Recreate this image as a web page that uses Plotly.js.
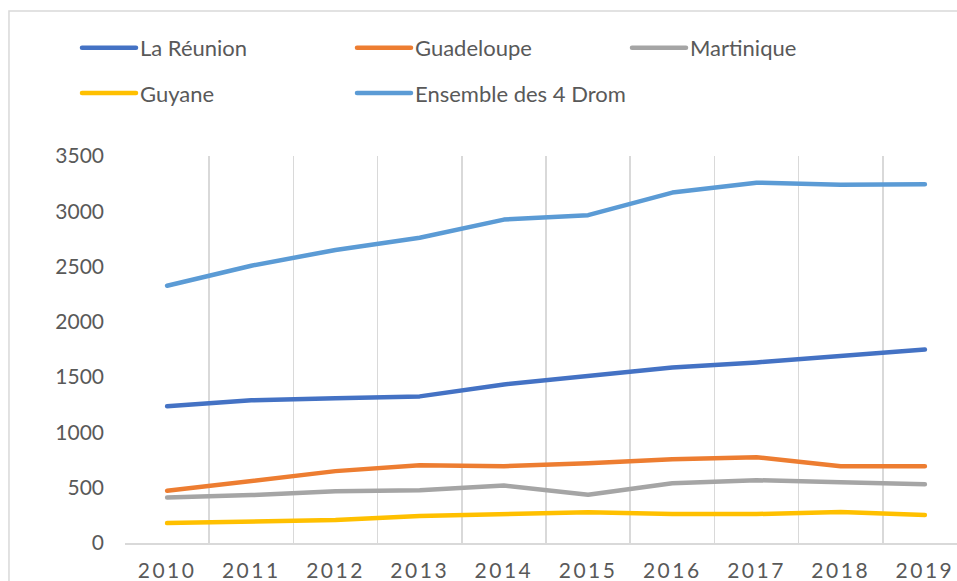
<!DOCTYPE html>
<html>
<head>
<meta charset="utf-8">
<script src="https://cdn.plot.ly/plotly-3.0.1.min.js"></script>
<style>
  html, body { margin: 0; padding: 0; overflow: hidden; background: #fff; }
  #chart { width: 1100px; height: 581px; }
  .xtick text { letter-spacing: 2.5px; }
  .scatterlayer .js-line { stroke-linecap: round; stroke-linejoin: round; }
</style>
</head>
<body>
<div id="chart"></div>
<script>
const years = ["2010", "2011", "2012", "2013", "2014", "2015", "2016", "2017", "2018", "2019"];
const laReunion = [1236, 1290, 1308, 1326, 1434, 1506, 1587, 1633, 1696, 1750];
const guadeloupe = [472, 559, 650, 704, 695, 722, 758, 776, 695, 695];
const martinique = [412, 433, 469, 478, 520, 436, 541, 568, 550, 532];
const guyane = [180, 198, 207, 244, 262, 277, 262, 262, 280, 253];
const ensemble = [2327, 2508, 2650, 2760, 2925, 2965, 3169, 3259, 3241, 3244];
const yTicks = [0, 500, 1000, 1500, 2000, 2500, 3000, 3500];

const fontFam = "Lato, 'Open Sans', sans-serif";
const grey = "#595959";

function tr(name, y, color, legend) {
  return {
    type: "scatter", mode: "lines", name: name, x: years, y: y,
    line: { color: color, width: 4.5 },
    legend: legend, hoverinfo: "skip"
  };
}

const data = [
  tr("La Réunion", laReunion, "#4472C4", "legend"),
  tr("Guadeloupe", guadeloupe, "#ED7D31", "legend"),
  tr("Martinique", martinique, "#A5A5A5", "legend"),
  tr("Guyane", guyane, "#FFC000", "legend2"),
  tr("Ensemble des 4 Drom", ensemble, "#5B9BD5", "legend2")
];

const legendCommon = {
  orientation: "h",
  xanchor: "left", yanchor: "middle",
  font: { family: fontFam, size: 22, color: grey },
  itemwidth: 53,
  entrywidth: 207, entrywidthmode: "pixels",
  bgcolor: "rgba(0,0,0,0)", borderwidth: 0,
  traceorder: "normal"
};

const layout = {
  width: 1100, height: 581,
  margin: { l: 125, r: 133, t: 156, b: 38 },
  paper_bgcolor: "#ffffff", plot_bgcolor: "#ffffff",
  font: { family: fontFam, size: 21, color: grey },
  showlegend: true,
  legend: Object.assign({}, legendCommon, { x: -0.057, y: 1.279 }),
  legend2: Object.assign({}, legendCommon, { x: -0.057, y: 1.1625 }),
  xaxis: {
    type: "category",
    range: [-0.5, 9.5],
    tickson: "boundaries",
    showgrid: true, gridcolor: "#d9d9d9", gridwidth: 1.5,
    showline: true, linecolor: "#d9d9d9", linewidth: 1.5,
    ticks: "", zeroline: false,
    ticklabelstandoff: 8,
    tickfont: { family: fontFam, size: 21, color: grey },
    fixedrange: true
  },
  yaxis: {
    range: [0, 3500],
    tickvals: yTicks,
    showgrid: false, zeroline: false, showline: false,
    ticks: "",
    ticklabelstandoff: 20,
    tickfont: { family: fontFam, size: 21, color: grey },
    fixedrange: true
  },
  shapes: [{
    type: "rect", xref: "paper", yref: "paper",
    x0: -0.1378, x1: 1.3, y0: -0.3, y1: 1.3747,
    line: { color: "#d9d9d9", width: 1.5 },
    fillcolor: "rgba(0,0,0,0)", layer: "below"
  }]
};

function stretchLegendLines() {
  document.querySelectorAll(".legendlines path").forEach(function (p) {
    p.setAttribute("d", "M5,0h54");
    p.style.strokeLinecap = "round";
  });
}

Plotly.newPlot("chart", data, layout, { staticPlot: true, displayModeBar: false })
  .then(stretchLegendLines);
</script>
</body>
</html>
